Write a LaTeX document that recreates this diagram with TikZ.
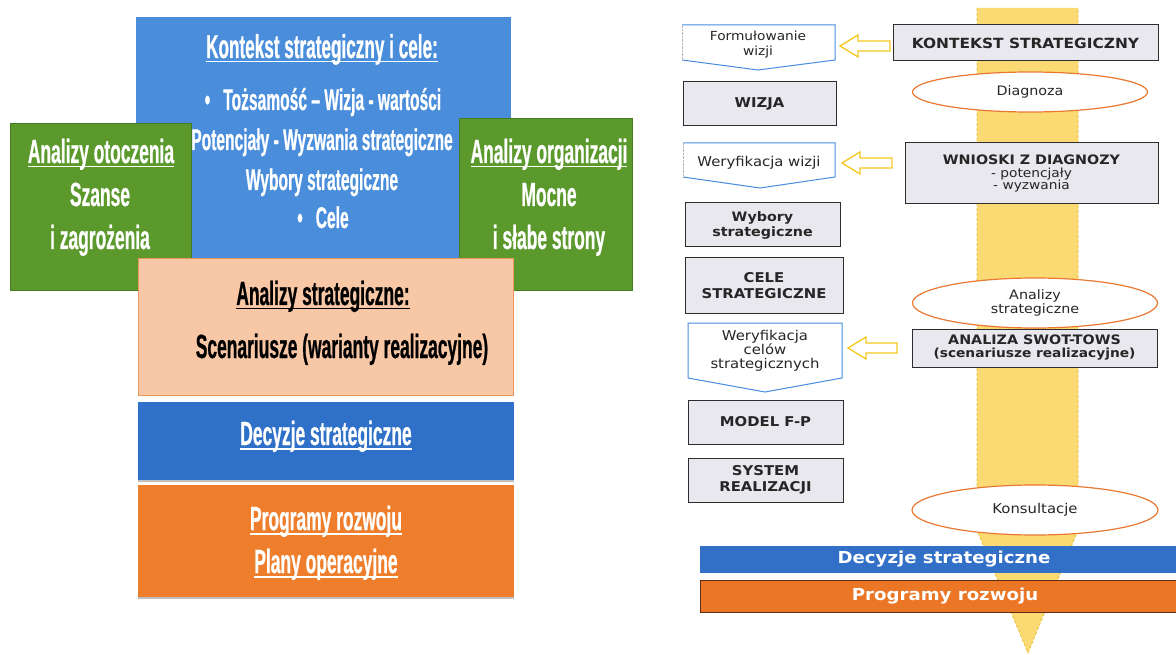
\documentclass[tikz,border=0pt]{standalone}
\usepackage{fontspec}
\usetikzlibrary{shapes.geometric}
\newfontfamily\cnd[FakeStretch=0.52,FakeBold=0.6]{Liberation Sans}
\newfontfamily\dvs[FakeStretch=1.1]{DejaVu Sans}
\newsavebox\ulbx
\newcommand\thul[1]{\sbox\ulbx{#1}\rlap{\raisebox{-4.5pt}{\rule{\wd\ulbx}{1.7pt}}}\usebox\ulbx}
\definecolor{kblue}{RGB}{74,141,219}
\definecolor{lgreen}{RGB}{91,153,45}
\definecolor{lgreenline}{RGB}{70,125,35}
\definecolor{peach}{RGB}{248,199,166}
\definecolor{peachline}{RGB}{236,150,90}
\definecolor{dblue}{RGB}{47,112,200}
\definecolor{orng}{RGB}{239,126,44}
\definecolor{rblue}{RGB}{50,112,200}
\definecolor{rorng}{RGB}{234,118,38}
\definecolor{brownline}{RGB}{90,45,20}
\definecolor{boxgray}{RGB}{232,232,238}
\definecolor{boxline}{RGB}{45,45,45}
\definecolor{bandfill}{RGB}{252,218,115}
\definecolor{bandline}{RGB}{235,190,50}
\definecolor{ellline}{RGB}{232,120,50}
\definecolor{vblue}{RGB}{70,140,225}
\definecolor{yarrow}{RGB}{245,200,30}
\begin{document}
\begin{tikzpicture}[x=1pt,y=-1pt,
  lbox/.style={rectangle, inner sep=0pt, draw=none},
  ltxt/.style={anchor=base, text=white, inner sep=0pt, font=\cnd\bfseries\fontsize{33.5}{40}\selectfont},
  gbox/.style={rectangle, draw=boxline, fill=boxgray, line width=1pt, inner sep=0pt, align=center, text=black!85, font=\dvs\bfseries\fontsize{13.5}{15.5}\selectfont},
  vtxt/.style={align=center, inner sep=0pt, text=black!85, font=\dvs\fontsize{13.5}{14}\selectfont},
  ell/.style={ellipse, draw=ellline, fill=white, line width=1.2pt, inner sep=0pt, align=center, text=black!85, font=\dvs\fontsize{13}{14.5}\selectfont},
  bar/.style={rectangle, inner sep=0pt, text=white, font=\dvs\bfseries\fontsize{16.5}{18}\selectfont},
  vshape/.style={draw=vblue, line width=1pt, line join=miter},
  yarr/.style={draw=yarrow, fill=white, line width=1.3pt, line join=miter}
]
\useasboundingbox (0,0) rectangle (1176,655);
\fill[white] (0,0) rectangle (1176,655);

% ---------------- left diagram ----------------
\node[lbox, fill=kblue, minimum width=375, minimum height=241] (kont) at (323.5,137.5) {};
\node[lbox, fill=lgreen, draw=lgreenline, line width=0.6pt, minimum width=181, minimum height=167] (otoc) at (100.5,206.5) {};
\node[lbox, fill=lgreen, draw=lgreenline, line width=0.6pt, minimum width=173, minimum height=172] (org) at (545.5,204) {};
\node[lbox, fill=peach, draw=peachline, line width=0.6pt, minimum width=375, minimum height=137] (anst) at (325.5,326.5) {};
\node[lbox, fill=black!25, minimum width=376, minimum height=78] (decsh) at (326,443) {};
\node[lbox, fill=dblue, minimum width=376, minimum height=78] (dec) at (326,441) {};
\node[lbox, fill=black!25, minimum width=376, minimum height=112] (progsh) at (326,543) {};
\node[lbox, fill=orng, minimum width=376, minimum height=112] (prog) at (326,541) {};

\node[ltxt, font=\cnd\bfseries\fontsize{33}{40}\selectfont] (kt1) at (322,58) {\thul{Kontekst strategiczny i cele:}};
\node[ltxt, font=\cnd\bfseries\fontsize{30}{36}\selectfont] (kt2) at (323,110) {•\ \ \ Tożsamość – Wizja - wartości};
\node[ltxt, font=\cnd\bfseries\fontsize{30}{36}\selectfont] (kt3) at (322,150) {Potencjały - Wyzwania strategiczne};
\node[ltxt, font=\cnd\bfseries\fontsize{30}{36}\selectfont] (kt4) at (322,190) {Wybory strategiczne};
\node[ltxt, font=\cnd\bfseries\fontsize{30}{36}\selectfont] (kt5) at (323,228) {•\ \ \ Cele};

\node[ltxt] (ot1) at (101,163) {\thul{Analizy otoczenia}};
\node[ltxt] (ot2) at (100,206) {Szanse};
\node[ltxt] (ot3) at (100,249) {i zagrożenia};

\node[ltxt] (or1) at (549,163) {\thul{Analizy organizacji}};
\node[ltxt] (or2) at (549,206) {Mocne};
\node[ltxt] (or3) at (549,249) {i słabe strony};

\node[ltxt, text=black] (as1) at (323,305) {\thul{Analizy strategiczne:}};
\node[ltxt, text=black] (as2) at (342,358) {Scenariusze (warianty realizacyjne)};

\node[ltxt] (dc1) at (326,445) {\thul{Decyzje strategiczne}};
\node[ltxt] (pr1) at (326,530) {\thul{Programy rozwoju}};
\node[ltxt] (pr2) at (326,573) {\thul{Plany operacyjne}};

% ---------------- right diagram ----------------
\fill[bandfill] (977,8) -- (1078,8) -- (1078,530) -- (1028,653) -- (977,530) -- cycle;
\draw[bandline, densely dashed, line width=0.8pt] (977,8) -- (977,530) -- (1028,653) -- (1078,530) -- (1078,8);

% flow shapes on the left column
\fill[white] (682,25) -- (835,25) -- (835,60) -- (758,70) -- (682,60) -- cycle;
\draw[vshape] (682,25) -- (835,25) -- (835,60) -- (758,70) -- (682,60);
\draw[black!30, densely dotted] (682,60) -- (682,25);
\node[vtxt, font=\dvs\fontsize{12.5}{15}\selectfont] (form) at (758,45) {Formułowanie\\wizji};

\node[gbox, minimum width=153, minimum height=44] (wizja) at (759.5,104) {WIZJA};

\fill[white] (683,143) -- (835,143) -- (835,177) -- (760,188) -- (683,177) -- cycle;
\draw[vshape] (683,143) -- (835,143) -- (835,177) -- (760,188) -- (683,177);
\draw[black!30, densely dotted] (683,177) -- (683,143);
\node[vtxt] (werw) at (759,163) {Weryfikacja wizji};

\node[gbox, minimum width=155, minimum height=44, font=\dvs\bfseries\fontsize{13}{15}\selectfont] (wyb) at (762.5,225) {Wybory\\strategiczne};
\node[gbox, minimum width=158, minimum height=55] (cele) at (764,285.5) {CELE\\STRATEGICZNE};

\fill[white] (688,323) -- (842,323) -- (842,378) -- (765,392) -- (688,378) -- cycle;
\draw[vshape] (688,323) -- (842,323) -- (842,378) -- (765,392) -- (688,378) -- cycle;
\node[vtxt] (werc) at (765,351) {Weryfikacja\\celów\\strategicznych};

\node[gbox, minimum width=155, minimum height=44] (model) at (765.5,422) {MODEL F-P};
\node[gbox, minimum width=155, minimum height=44] (system) at (765.5,480) {SYSTEM\\REALIZACJI};

% right column
\node[gbox, minimum width=265, minimum height=36, font=\dvs\bfseries\fontsize{14}{15}\selectfont] (kstr) at (1025.5,43) {KONTEKST STRATEGICZNY};
\node[ell, minimum width=235, minimum height=40] (diag) at (1030,92) {Diagnoza};
\node[gbox, minimum width=253, minimum height=61, font=\dvs\bfseries\fontsize{12.5}{14}\selectfont] (wnio) at (1031.5,173.5) {{\fontsize{13}{14}\selectfont WNIOSKI Z DIAGNOZY}\\[-1pt]{\mdseries - potencjały}\\[-2pt]{\mdseries - wyzwania}};
\node[ell, minimum width=245, minimum height=50] (anal) at (1035,303) {Analizy\\strategiczne};
\node[gbox, minimum width=245, minimum height=38, font=\dvs\bfseries\fontsize{12.5}{14}\selectfont] (swot) at (1034.5,348) {{\fontsize{13}{14}\selectfont ANALIZA SWOT-TOWS}\\[-1pt](scenariusze realizacyjne)};
\node[ell, minimum width=246, minimum height=50, font=\dvs\fontsize{13.5}{15}\selectfont] (kons) at (1035,510) {Konsultacje};

% bottom bars
\node[bar, fill=rblue, minimum width=476, minimum height=27] (rdec) at (938,559) {\hspace{12pt}Decyzje strategiczne};
\node[bar, fill=rorng, draw=brownline, line width=1pt, minimum width=478, minimum height=32] (rprog) at (939,596) {\hspace{12pt}Programy rozwoju};

% hollow yellow arrows
\draw[yarr] (840,46) -- (858,35) -- (858,41) -- (890,41) -- (890,51) -- (858,51) -- (858,57) -- cycle;
\draw[yarr] (842,163) -- (860,152) -- (860,158) -- (892,158) -- (892,168) -- (860,168) -- (860,174) -- cycle;
\draw[yarr] (848,348) -- (866,337) -- (866,343) -- (897,343) -- (897,353) -- (866,353) -- (866,359) -- cycle;
\end{tikzpicture}
\end{document}
